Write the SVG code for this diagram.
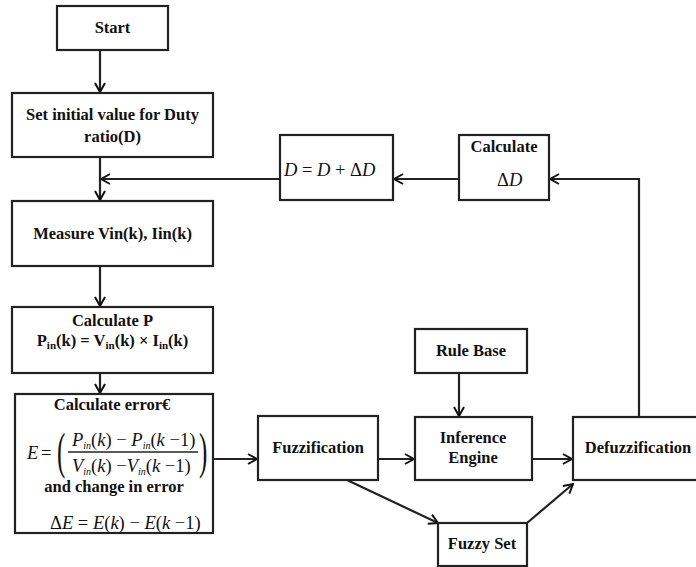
<svg xmlns="http://www.w3.org/2000/svg" width="696" height="567" viewBox="0 0 696 567">
<defs>
<marker id="arr" viewBox="0 0 12 12" refX="11" refY="6" markerWidth="12" markerHeight="12" markerUnits="userSpaceOnUse" orient="auto">
<polyline points="2,1 11,6 2,11" fill="none" stroke="#111" stroke-width="2"/>
</marker>
<style>
.box{fill:#fff;stroke:#222;stroke-width:2.2}
.t{font-family:"Liberation Serif","Times New Roman",serif;font-weight:bold;font-size:16.5px;fill:#111;text-anchor:middle}
.m{font-family:"Liberation Serif","Times New Roman",serif;font-style:italic;font-size:18.5px;fill:#111}
.mu{font-family:"Liberation Serif","Times New Roman",serif;fill:#111}
.c{fill:none;stroke:#222;stroke-width:2.2}
</style>
</defs>
<rect width="696" height="567" fill="#fff"/>
<g id="connectors">
<line class="c" x1="100" y1="50" x2="100" y2="92" marker-end="url(#arr)"/>
<line class="c" x1="100" y1="157" x2="100" y2="200" marker-end="url(#arr)"/>
<line class="c" x1="100" y1="266" x2="100" y2="306" marker-end="url(#arr)"/>
<line class="c" x1="100" y1="373" x2="100" y2="393" marker-end="url(#arr)"/>
<line class="c" x1="280" y1="179" x2="101" y2="179" marker-end="url(#arr)"/>
<line class="c" x1="459" y1="179" x2="394" y2="179" marker-end="url(#arr)"/>
<polyline class="c" points="639,417 639,179 550,179" marker-end="url(#arr)"/>
<line class="c" x1="213" y1="459" x2="257" y2="459" marker-end="url(#arr)"/>
<line class="c" x1="378" y1="459" x2="414" y2="459" marker-end="url(#arr)"/>
<line class="c" x1="532" y1="459" x2="572" y2="459" marker-end="url(#arr)"/>
<line class="c" x1="459" y1="373" x2="459" y2="416" marker-end="url(#arr)"/>
<line class="c" x1="347" y1="480" x2="438" y2="523" marker-end="url(#arr)"/>
<line class="c" x1="527" y1="523" x2="573" y2="484" marker-end="url(#arr)"/>
</g>
<g id="start">
<rect class="box" x="57" y="6" width="111" height="44"/>
<text class="t" x="112.5" y="33">Start</text>
</g>
<g id="init">
<rect class="box" x="12" y="93" width="201" height="64"/>
<text class="t" x="112.5" y="120">Set initial value for Duty</text>
<text class="t" x="112.5" y="142">ratio(D)</text>
</g>
<g id="measure">
<rect class="box" x="12" y="201" width="201" height="65"/>
<text class="t" x="112.5" y="239">Measure Vin(k), Iin(k)</text>
</g>
<g id="calcP">
<rect class="box" x="12" y="307" width="201" height="66"/>
<text class="t" x="112.5" y="326">Calculate P</text>
<text class="t" x="112.5" y="346">P<tspan font-size="11" dy="3">in</tspan><tspan dy="-3">(k) = V</tspan><tspan font-size="11" dy="3">in</tspan><tspan dy="-3">(k) × I</tspan><tspan font-size="11" dy="3">in</tspan><tspan dy="-3">(k)</tspan></text>
</g>
<g id="calcE">
<rect class="box" x="15" y="394" width="198" height="139"/>
<text class="t" x="112" y="410">Calculate error€</text>
<text class="m" x="27" y="459">E</text>
<text class="mu" x="41" y="459" style="font-size:18.5px">=</text>
<text class="mu" x="57" y="468" style="font-size:50px" transform="translate(57 452) scale(0.5 1) translate(-57 -452)">(</text>
<text class="mu" x="199" y="468" style="font-size:50px" transform="translate(199 452) scale(0.5 1) translate(-199 -452)">)</text>
<line x1="68" y1="452" x2="198" y2="452" stroke="#222" stroke-width="1.3"/>
<text class="m" x="72" y="446">P<tspan font-size="10" dy="3">in</tspan><tspan dy="-3" font-style="normal">(</tspan>k<tspan font-style="normal">) − </tspan>P<tspan font-size="10" dy="3">in</tspan><tspan dy="-3" font-style="normal">(</tspan>k<tspan font-style="normal"> −1)</tspan></text>
<text class="m" x="72" y="472">V<tspan font-size="10" dy="3">in</tspan><tspan dy="-3" font-style="normal">(</tspan>k<tspan font-style="normal">) −</tspan>V<tspan font-size="10" dy="3">in</tspan><tspan dy="-3" font-style="normal">(</tspan>k<tspan font-style="normal"> −1)</tspan></text>
<text class="t" x="114" y="492">and change in error</text>
<text class="m" x="50" y="529"><tspan font-style="normal">Δ</tspan>E<tspan font-style="normal"> = </tspan>E<tspan font-style="normal">(</tspan>k<tspan font-style="normal">) − </tspan>E<tspan font-style="normal">(</tspan>k<tspan font-style="normal"> −1)</tspan></text>
</g>
<g id="dupdate">
<rect class="box" x="280" y="135" width="113" height="65"/>
<text class="m" x="284" y="176">D<tspan font-style="normal"> = </tspan>D<tspan font-style="normal"> + Δ</tspan>D</text>
</g>
<g id="calcD">
<rect class="box" x="459" y="135" width="90" height="65"/>
<text class="t" x="504" y="152">Calculate</text>
<text class="m" x="497" y="186"><tspan font-style="normal">Δ</tspan>D</text>
</g>
<g id="fuzz">
<rect class="box" x="258" y="416" width="120" height="64"/>
<text class="t" x="318" y="453">Fuzzification</text>
</g>
<g id="rulebase">
<rect class="box" x="415" y="329" width="112" height="44"/>
<text class="t" x="471" y="356">Rule Base</text>
</g>
<g id="inference">
<rect class="box" x="415" y="417" width="117" height="63"/>
<text class="t" x="473" y="443">Inference</text>
<text class="t" x="473" y="463">Engine</text>
</g>
<g id="defuzz">
<rect class="box" x="573" y="417" width="125" height="63"/>
<text class="t" x="638" y="453">Defuzzification</text>
</g>
<g id="fuzzyset">
<rect class="box" x="438" y="523" width="89" height="43"/>
<text class="t" x="482" y="549">Fuzzy Set</text>
</g>
</svg>
